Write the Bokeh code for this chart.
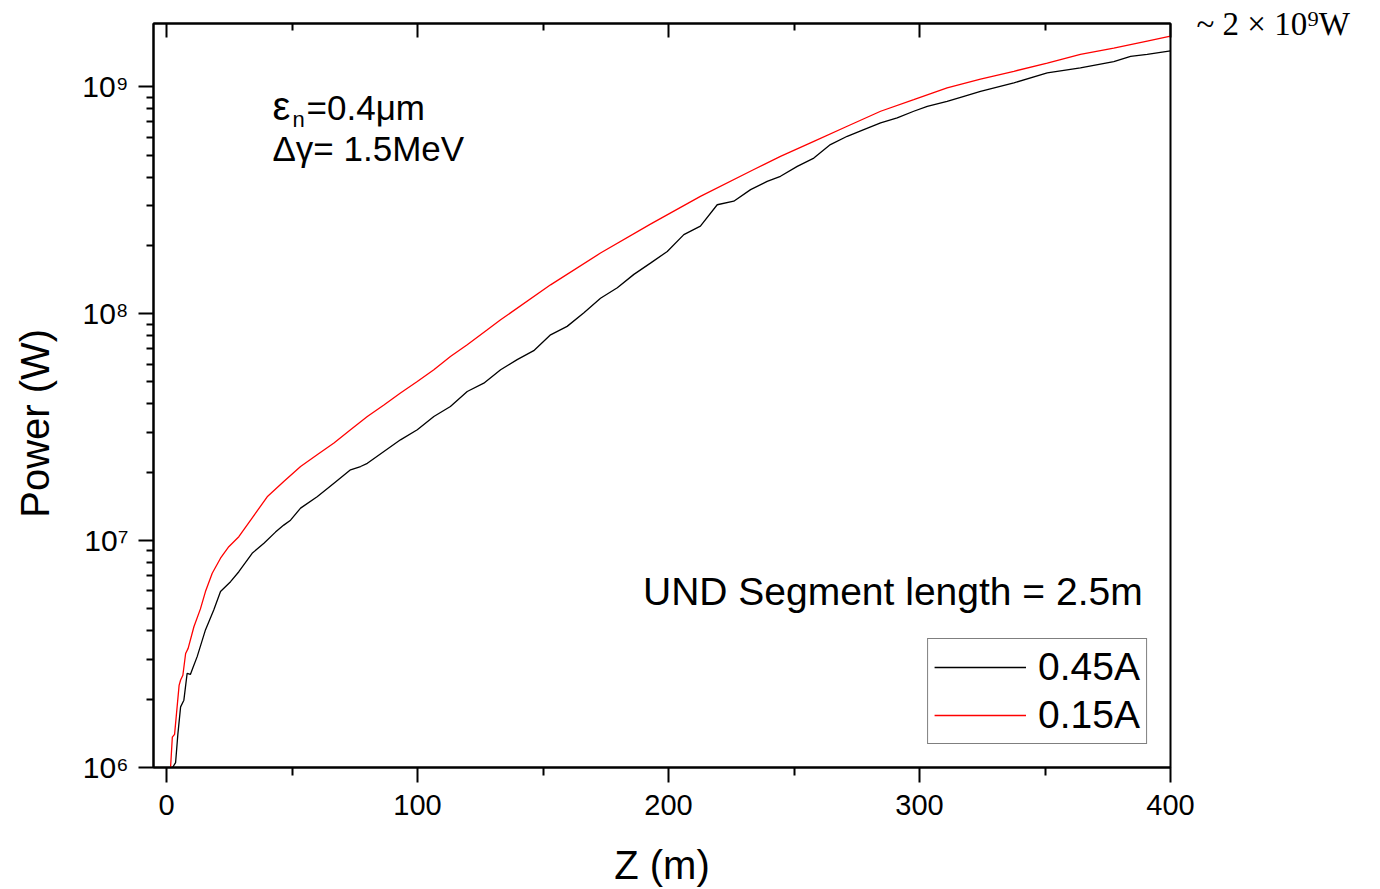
from bokeh.plotting import figure
from bokeh.models import (LinearAxis, LogAxis, FixedTicker, Range1d, Label, Legend, LegendItem,
                          CustomJSTickFormatter)
from bokeh.embed import file_html
from bokeh.resources import INLINE

# ---- data (z in m, power in W) ----
z_045 = [2.4, 3.6, 4.5, 5.6, 6.9, 8.2, 9.5, 10.5, 12.2, 15.5, 18.8, 21.5, 25.5, 28.8, 34.1,
         38.8, 43.4, 46.7, 49.4, 53.4, 60.0, 66.7, 73.3, 77.3, 80.0, 86.6, 93.2, 99.9, 106.5,
         113.1, 119.8, 126.4, 133.1, 139.7, 146.3, 153.0, 159.6, 166.3, 172.9, 179.6, 186.2,
         192.8, 199.5, 206.1, 212.7, 219.4, 226.0, 232.7, 239.3, 244.6, 251.3, 257.9, 264.5,
         271.2, 277.8, 284.5, 291.1, 297.7, 303.1, 311.0, 317.7, 324.3, 337.6, 350.9, 364.1,
         377.4, 384.1, 390.7, 400.0]
p_045 = [1.00e6, 1.05e6, 1.40e6, 1.85e6, 1.98e6, 2.60e6, 2.57e6, 2.75e6, 3.08e6, 4.04e6,
         4.94e6, 5.96e6, 6.59e6, 7.29e6, 8.79e6, 9.73e6, 1.09e7, 1.17e7, 1.23e7, 1.39e7,
         1.56e7, 1.79e7, 2.05e7, 2.12e7, 2.19e7, 2.47e7, 2.78e7, 3.08e7, 3.52e7, 3.90e7,
         4.54e7, 4.94e7, 5.66e7, 6.27e7, 6.87e7, 8.07e7, 8.79e7, 1.01e8, 1.17e8, 1.30e8,
         1.49e8, 1.67e8, 1.88e8, 2.23e8, 2.43e8, 3.02e8, 3.13e8, 3.52e8, 3.83e8, 4.03e8,
         4.46e8, 4.85e8, 5.56e8, 6.05e8, 6.47e8, 6.93e8, 7.29e8, 7.80e8, 8.20e8, 8.63e8,
         9.08e8, 9.55e8, 1.04e9, 1.15e9, 1.21e9, 1.29e9, 1.36e9, 1.39e9, 1.44e9]

z_015 = [1.6, 2.3, 3.2, 5.0, 5.6, 6.5, 7.6, 8.6, 10.9, 13.5, 15.5, 18.2, 21.5, 24.8, 28.8,
         33.5, 40.1, 46.7, 53.4, 60.0, 66.7, 73.3, 80.0, 86.6, 93.2, 99.9, 106.5, 113.1,
         119.8, 127.8, 133.1, 153.0, 172.9, 192.8, 212.7, 234.0, 244.6, 257.9, 271.2, 284.5,
         297.7, 311.0, 324.3, 337.6, 350.9, 364.1, 377.4, 390.7, 400.0]
p_015 = [1.00e6, 1.36e6, 1.40e6, 2.30e6, 2.43e6, 2.55e6, 3.18e6, 3.35e6, 4.17e6, 5.00e6,
         5.96e6, 7.18e6, 8.36e6, 9.40e6, 1.04e7, 1.23e7, 1.56e7, 1.82e7, 2.12e7, 2.39e7,
         2.69e7, 3.08e7, 3.52e7, 3.96e7, 4.47e7, 5.02e7, 5.66e7, 6.47e7, 7.29e7, 8.49e7,
         9.40e7, 1.34e8, 1.85e8, 2.48e8, 3.29e8, 4.32e8, 4.93e8, 5.75e8, 6.70e8, 7.80e8,
         8.77e8, 9.89e8, 1.08e9, 1.17e9, 1.27e9, 1.39e9, 1.48e9, 1.59e9, 1.67e9]

series_labels = ["0.45A", "0.15A"]
x_major = [0, 100, 200, 300, 400]
x_minor = [50, 150, 250, 350]
y_major = [1e6, 1e7, 1e8, 1e9]
y_minor = [k * 10 ** e for e in (6, 7, 8, 9) for k in range(2, 10)]
peak_note = "~ 2 \u00d7 10\u2079W"
peak_note_at = [1.895e9]

FONT = "Liberation Sans"

p = figure(width=1380, height=889, y_axis_type="log",
           x_range=Range1d(-5.2, 400), y_range=Range1d(1e6, 1.9e9),
           output_backend="svg", toolbar_location=None,
           min_border_left=153, min_border_right=210, min_border_top=23, min_border_bottom=121)
p.grid.visible = False
p.background_fill_color = "white"
p.border_fill_color = "white"
p.outline_line_color = "black"
p.outline_line_width = 2
p.outline_line_alpha = 1

r_b = p.line(z_045, p_045, line_color="black", line_width=1.3)
r_r = p.line(z_015, p_015, line_color="#ff0000", line_width=1.3)

# bottom axis
xa = p.xaxis[0]
xa.ticker = FixedTicker(ticks=x_major, minor_ticks=x_minor)
xa.axis_label = "Z (m)"
xa.axis_label_text_font = FONT
xa.axis_label_text_font_size = "40px"
xa.axis_label_text_font_style = "normal"
xa.axis_label_text_color = "black"
xa.axis_label_standoff = 25
xa.major_label_text_font = FONT
xa.major_label_text_font_size = "29px"
xa.major_label_text_color = "black"
xa.major_label_standoff = 12
xa.axis_line_width = 2
xa.major_tick_line_width = 2
xa.minor_tick_line_width = 2
xa.major_tick_in = 0
xa.major_tick_out = 15
xa.minor_tick_in = 0
xa.minor_tick_out = 8

# left axis
ya = p.yaxis[0]
ya.ticker = FixedTicker(ticks=y_major, minor_ticks=y_minor)
ya.formatter = CustomJSTickFormatter(code="""
const sup = {"0":"\u2070","1":"\u00b9","2":"\u00b2","3":"\u00b3","4":"\u2074","5":"\u2075","6":"\u2076","7":"\u2077","8":"\u2078","9":"\u2079"};
const e = Math.round(Math.log10(tick));
return "10" + String(e).split("").map(c => sup[c]).join("");
""")
ya.axis_label = "Power (W)" + "\u00a0" * 5
ya.axis_label_text_font = FONT
ya.axis_label_text_font_size = "40px"
ya.axis_label_text_font_style = "normal"
ya.axis_label_text_color = "black"
ya.axis_label_standoff = 22
ya.major_label_text_font = FONT
ya.major_label_text_font_size = "30px"
ya.major_label_text_color = "black"
ya.major_label_standoff = 10
ya.axis_line_width = 2
ya.major_tick_line_width = 2
ya.minor_tick_line_width = 2
ya.major_tick_in = 0
ya.major_tick_out = 15
ya.minor_tick_in = 0
ya.minor_tick_out = 7

# top axis: inward ticks only
top = LinearAxis(ticker=FixedTicker(ticks=x_major, minor_ticks=x_minor),
                 formatter=CustomJSTickFormatter(code='return "";'),
                 major_label_text_font_size="0px", major_label_standoff=0,
                 axis_line_width=2, major_tick_line_width=2, minor_tick_line_width=2,
                 major_tick_in=14, major_tick_out=0, minor_tick_in=7, minor_tick_out=0)
p.add_layout(top, "above")

# right axis: plain, carries the note at the top right
right = LogAxis(ticker=FixedTicker(ticks=peak_note_at, minor_ticks=[]),
                formatter=CustomJSTickFormatter(code='return "%s";' % peak_note),
                axis_line_color=None, major_tick_line_color=None, minor_tick_line_color=None,
                major_tick_in=0, major_tick_out=0, major_label_standoff=26,
                major_label_text_font="Liberation Serif", major_label_text_font_size="33px",
                major_label_text_color="black")
p.add_layout(right, "right")

legend = Legend(items=[LegendItem(label=series_labels[0], renderers=[r_b]),
                       LegendItem(label=series_labels[1], renderers=[r_r])],
                location="bottom_right", margin=23, padding=6, spacing=4,
                glyph_width=92, glyph_height=30, label_standoff=12,
                label_text_font=FONT, label_text_font_size="39px", label_text_color="black",
                border_line_color="black", border_line_width=1,
                background_fill_color="white", background_fill_alpha=1)
p.add_layout(legend)

def lab(x, y, t, size, align="left", font=FONT):
    p.add_layout(Label(x=x, y=y, text=t, text_font=font, text_font_size=size,
                       text_align=align, text_baseline="alphabetic", text_color="black"))

lab(42.2, 8.23e8, "\u03b5", "40px")
lab(50.2, 7.19e8, "n", "22px")
lab(55.8, 8.08e8, "=0.4\u03bcm", "35px")
lab(42.2, 5.33e8, "\u0394\u03b3= 1.5MeV", "35px")
lab(388.9, 5.96e6, "UND Segment length = 2.5m", "39px", align="right")

open("out.html", "w").write(file_html(p, INLINE))
